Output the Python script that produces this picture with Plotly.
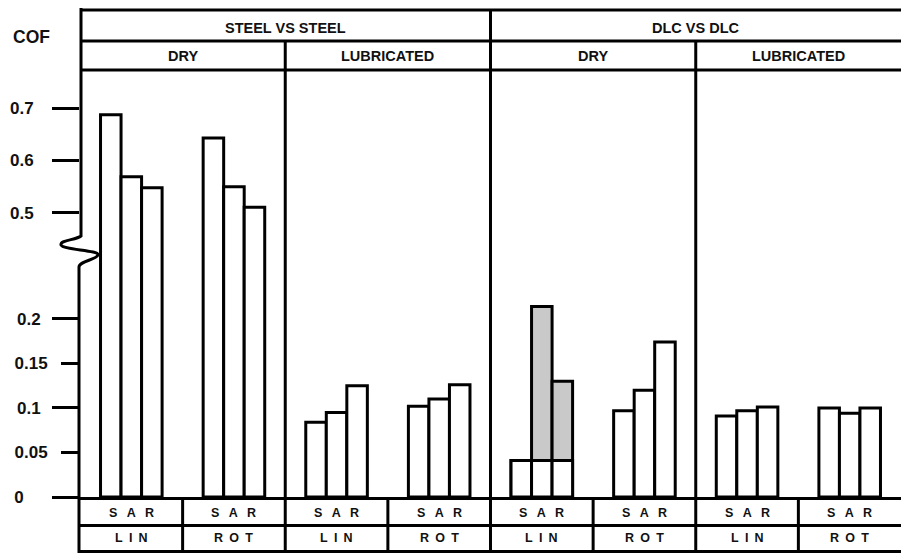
import plotly.graph_objects as go

# ---------------- data ----------------
materials = ["STEEL VS STEEL", "DLC VS DLC"]
conditions = ["DRY", "LUBRICATED"]
motions = ["LIN", "ROT"]
tests = ["S", "A", "R"]

# COF values, order S, A, R
steel_dry_lin = [0.687, 0.569, 0.548]
steel_dry_rot = [0.643, 0.550, 0.511]
steel_lub_lin = [0.084, 0.095, 0.125]
steel_lub_rot = [0.102, 0.110, 0.126]
dlc_dry_lin_base = [0.041, 0.041, 0.041]    # white lower part
dlc_dry_lin_total = [0.041, 0.214, 0.130]   # top of grey part
dlc_dry_rot = [0.097, 0.120, 0.174]
dlc_lub_lin = [0.091, 0.097, 0.101]
dlc_lub_rot = [0.100, 0.094, 0.100]

lower_ticks_long = [0.1, 0.2]
lower_ticks_long_text = ["0.1", "0.2"]
lower_ticks_short = [0.05, 0.15]
lower_ticks_short_text = ["0.05", "0.15"]
zero_tick = [0]
zero_tick_text = ["0"]
upper_ticks = [0.5, 0.6, 0.7]
upper_ticks_text = ["0.5", "0.6", "0.7"]

cells = [steel_dry_lin, steel_dry_rot, steel_lub_lin, steel_lub_rot,
         dlc_dry_lin_base, dlc_dry_rot, dlc_lub_lin, dlc_lub_rot]
grey_cell = 4

# ---------------- layout constants ----------------
W, H = 901, 553
ML, MR, MT, MB = 80, 0, 70, 56
PW = W - ML - MR
PH = H - MT - MB
BAR_W = 0.2
BRK = (497 - 250) / PH          # paper fraction of the axis break
LOWER_RANGE = [0, 0.2775]
UPPER_RANGE = [0.4295, 0.7724]

def px_x(px):
    return (px - ML) / PW

def px_y(py):
    return (H - MB - py) / PH

FONT = "Liberation Sans, Arial, Helvetica, sans-serif"
INK = "#111111"

def bar_x(i):
    return [i + 0.5 + (j - 1) * BAR_W for j in range(len(tests))]

all_x, all_y = [], []
for i, vals in enumerate(cells):
    all_x += bar_x(i)
    all_y += vals

line = dict(color="black", width=3)
fig = go.Figure()
fig.add_trace(go.Bar(x=bar_x(grey_cell), y=dlc_dry_lin_total, width=BAR_W,
                     marker=dict(color="#c9c9c9", line=line),
                     xaxis="x", yaxis="y", hoverinfo="skip"))
fig.add_trace(go.Bar(x=all_x, y=all_y, width=BAR_W,
                     marker=dict(color="white", line=line),
                     xaxis="x", yaxis="y", hoverinfo="skip"))
fig.add_trace(go.Bar(x=all_x, y=all_y, width=BAR_W,
                     marker=dict(color="white", line=line),
                     xaxis="x", yaxis="y2", hoverinfo="skip"))
fig.add_trace(go.Scatter(x=[None], y=[None], xaxis="x", yaxis="y3", showlegend=False))
fig.add_trace(go.Scatter(x=[None], y=[None], xaxis="x", yaxis="y4", showlegend=False))

tickfont = dict(family=FONT, size=17, color=INK, weight="bold")
common_y = dict(showgrid=False, zeroline=False, showline=False, ticks="outside",
                tickwidth=3, tickcolor="black", tickfont=tickfont, fixedrange=True)

fig.update_layout(
    width=W, height=H,
    margin=dict(l=ML, r=MR, t=MT, b=MB),
    paper_bgcolor="white", plot_bgcolor="white",
    showlegend=False, barmode="overlay", hovermode=False,
    xaxis=dict(range=[0, 8], domain=[0, 1], showline=True, linecolor="black",
               linewidth=3, ticks="", showticklabels=False, showgrid=False,
               zeroline=False, fixedrange=True),
    yaxis=dict(domain=[0, BRK], range=LOWER_RANGE, anchor="x",
               tickmode="array", tickvals=lower_ticks_long, ticktext=lower_ticks_long_text,
               ticklen=27, ticklabelstandoff=8, **common_y),
    yaxis3=dict(overlaying="y", range=LOWER_RANGE, anchor="x", side="left",
                tickmode="array", tickvals=lower_ticks_short, ticktext=lower_ticks_short_text,
                ticklen=18, ticklabelstandoff=10, **common_y),
    yaxis4=dict(overlaying="y", range=LOWER_RANGE, anchor="x", side="left",
                tickmode="array", tickvals=zero_tick, ticktext=zero_tick_text,
                ticklen=27, ticklabelstandoff=25, **common_y),
    yaxis2=dict(domain=[BRK, 1], range=UPPER_RANGE, anchor="x",
                tickmode="array", tickvals=upper_ticks, ticktext=upper_ticks_text,
                ticklen=27, ticklabelstandoff=15, **common_y),
)

shapes = []
def hline(py, x0=0.0, x1=1.0):
    shapes.append(dict(type="line", xref="paper", yref="paper", x0=x0, x1=x1,
                       y0=px_y(py), y1=px_y(py), line=line))

def vline(xf, py0, py1):
    shapes.append(dict(type="line", xref="paper", yref="paper", x0=xf, x1=xf,
                       y0=px_y(py0), y1=px_y(py1), line=line))

hline(10)
hline(41)
hline(70)
hline(525.5)
hline(551.5)
vline(4 / 8, 10, 553)
vline(2 / 8, 41, 553)
vline(6 / 8, 41, 553)
for k in (1, 3, 5, 7):
    vline(k / 8, 497, 553)

# left axis line with break squiggle
pts = lambda x, y: f"{px_x(x):.5f},{px_y(y):.5f}"
path = ("M " + pts(81, 8) + " L " + pts(81, 236) +
        " C " + pts(76, 240) + " " + pts(60, 240) + " " + pts(61, 245) +
        " C " + pts(63, 250) + " " + pts(100, 250) + " " + pts(98, 255) +
        " C " + pts(96, 260) + " " + pts(79, 261) + " " + pts(79, 267) +
        " L " + pts(79, 553))
shapes.append(dict(type="path", xref="paper", yref="paper", path=path,
                   line=line, fillcolor="rgba(0,0,0,0)"))
fig.update_layout(shapes=shapes)

ann = []
def text(xf, py, s, size):
    ann.append(dict(xref="paper", yref="paper", x=xf, y=px_y(py), text=s,
                    showarrow=False, xanchor="center", yanchor="middle",
                    font=dict(family=FONT, size=size, color=INK, weight="bold")))

for m, name in enumerate(materials):
    text((4 * m + 2) / 8, 28, name, 14.5)
    for c, cond in enumerate(conditions):
        text((4 * m + 2 * c + 1) / 8, 56, cond, 14.5)
for i in range(8):
    text((i + 0.5) / 8, 513, "\u2002\u2005".join(tests), 12.5)
    text((i + 0.5) / 8, 538, "\u2002".join(motions[i % 2]), 12.5)
text(px_x(31), 37, "COF", 17.5)
fig.update_layout(annotations=ann)

fig.write_html("out.html",
               config={"displayModeBar": False, "staticPlot": True},
               post_script="document.body.style.margin='0';"
                           "document.body.style.overflow='hidden';")
